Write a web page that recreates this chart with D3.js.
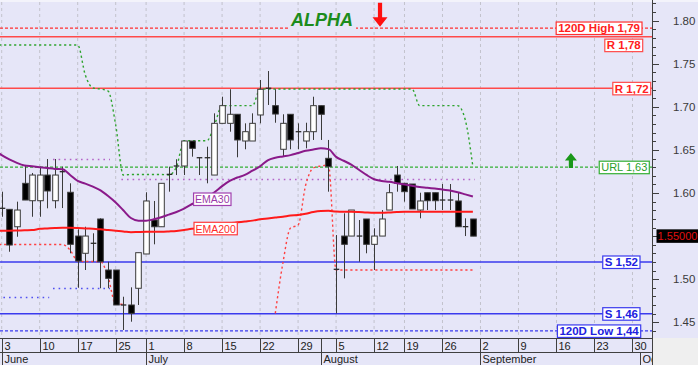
<!DOCTYPE html>
<html><head><meta charset="utf-8">
<script src="https://cdn.jsdelivr.net/npm/d3@7"></script>
<style>
html,body{margin:0;padding:0;background:#e6e6f8;}
svg{display:block;font-family:"Liberation Sans",Arial,sans-serif;}
</style></head><body>
<svg id="chart" width="698" height="365"></svg>
<script>
// ---------- DATA ----------
// trading-day index 0 = 3 June; candles 0..62
const openV  = [1.5825,1.5811,1.5609,1.6113,1.5911,1.5911,1.6209,1.5911,1.6250,1.6009,1.5501,1.5301,1.5419,1.5699,1.5107,1.5107,1.4703,1.4701,1.4895,1.5293,1.5687,1.5609,1.6219,1.6316,1.6314,1.6604,1.6412,1.6412,1.6209,1.6809,1.6809,1.6914,1.6604,1.6604,1.6906,1.7218,1.7014,1.6508,1.6914,1.6714,1.6604,1.6712,1.7014,1.6403,1.5117,1.5501,1.5501,1.5503,1.5699,1.5405,1.5501,1.5803,1.6209,1.6113,1.6105,1.5803,1.6004,1.6004,1.5921,1.5921,1.5908,1.5611,1.5699];
const highV  = [1.6016,1.5811,1.5900,1.6314,1.6233,1.6306,1.6395,1.6395,1.6306,1.6113,1.5579,1.5609,1.5533,1.5707,1.5203,1.5107,1.4797,1.4906,1.5308,1.6009,1.5908,1.6113,1.6306,1.6392,1.6604,1.6604,1.6412,1.6538,1.6925,1.7118,1.7204,1.6914,1.6809,1.6925,1.7312,1.7416,1.7204,1.6914,1.6914,1.6809,1.6816,1.7118,1.7014,1.6616,1.5513,1.5765,1.5803,1.5687,1.5699,1.5591,1.5803,1.6105,1.6314,1.6113,1.6105,1.6004,1.6004,1.6004,1.6105,1.6105,1.6004,1.5707,1.5699];
const lowV   = [1.5725,1.5319,1.5493,1.5919,1.5725,1.5725,1.5823,1.5823,1.5826,1.5301,1.4901,1.5107,1.5203,1.4895,1.4895,1.4701,1.4411,1.4507,1.4701,1.5293,1.5405,1.5609,1.6016,1.6209,1.6209,1.6422,1.6209,1.6113,1.6209,1.6809,1.6712,1.6415,1.6508,1.6604,1.6809,1.7022,1.6816,1.6422,1.6508,1.6508,1.6519,1.6616,1.6616,1.6016,1.4604,1.5010,1.5501,1.5203,1.5301,1.5107,1.5501,1.5803,1.6016,1.5900,1.5815,1.5707,1.5803,1.5803,1.5803,1.5803,1.5609,1.5501,1.5500];
const closeV = [1.5821,1.5397,1.5803,1.5919,1.6209,1.6209,1.6024,1.6209,1.6246,1.5405,1.5211,1.5501,1.5415,1.5203,1.5010,1.4701,1.4699,1.4604,1.5308,1.5908,1.5609,1.6113,1.6215,1.6312,1.6604,1.6519,1.6408,1.6408,1.6809,1.7014,1.6914,1.6616,1.6712,1.6809,1.7204,1.7214,1.6917,1.6809,1.6616,1.6710,1.6712,1.7014,1.6914,1.6306,1.5113,1.5405,1.5803,1.5499,1.5405,1.5501,1.5699,1.6004,1.6113,1.6016,1.5815,1.5908,1.5911,1.5911,1.5917,1.5917,1.5609,1.5609,1.5500];

// indicator series start at index -1
const seriesStart = -1;
const ema30 = [1.650,1.644,1.639,1.635,1.632,1.631,1.630,1.629,1.628,1.6275,1.621,1.614,1.611,1.6075,1.603,1.5965,1.589,1.580,1.571,1.568,1.568,1.5695,1.572,1.575,1.578,1.582,1.587,1.591,1.595,1.601,1.608,1.614,1.618,1.621,1.626,1.631,1.638,1.641,1.6425,1.644,1.6465,1.649,1.6505,1.652,1.651,1.642,1.6375,1.633,1.627,1.621,1.616,1.614,1.613,1.6115,1.610,1.6085,1.607,1.6062,1.6052,1.604,1.603,1.601,1.5985,1.596];
const ema200 = [1.5563,1.5563,1.5563,1.5565,1.5568,1.557,1.5585,1.559,1.5595,1.5598,1.5598,1.5595,1.559,1.5585,1.558,1.557,1.5562,1.5555,1.5545,1.5548,1.555,1.555,1.5551,1.5555,1.556,1.557,1.5585,1.559,1.5605,1.562,1.5635,1.565,1.566,1.567,1.568,1.5695,1.5705,1.5715,1.5725,1.574,1.5745,1.576,1.578,1.5792,1.5795,1.5785,1.5783,1.5783,1.578,1.5775,1.5772,1.5772,1.5775,1.578,1.5783,1.5783,1.5783,1.5783,1.5783,1.5783,1.5783,1.5783,1.5783,1.5783];
const upperStop = [1.7718,1.7718,1.7718,1.7718,1.7718,1.7718,1.7718,1.7718,1.7718,1.7718,1.7718,1.7718,1.737,1.7219,1.7207,1.7184,1.679,1.621,1.6215,1.6215,1.6215,1.6215,1.6215,1.621,1.6306,1.6607,1.6607,1.6607,1.6607,1.679,1.7014,1.7014,1.7014,1.7014,1.7014,1.7207,1.7207,1.7207,1.7207,1.7207,1.7207,1.7207,1.7207,1.7207,1.7207,1.7207,1.7207,1.7207,1.7207,1.7207,1.7207,1.7207,1.7207,1.7207,1.7207,1.7207,1.7014,1.7014,1.7014,1.7014,1.7014,1.7014,1.6848,1.6306];
const lowerStop = [1.5403,1.5403,1.5403,1.5403,1.5403,1.5403,1.5403,1.5403,1.5403,1.5403,1.5339,1.5212,1.5205,1.5205,1.5205,1.5026,1.4709,1.4709,null,null,null,null,null,null,null,null,null,null,null,null,null,null,null,null,null,null,null,1.4604,1.5188,1.5594,1.5629,1.6093,1.6291,1.6314,1.6325,1.5107,1.5107,1.5107,1.5107,1.5107,1.5107,1.5107,1.5107,1.5107,1.5107,1.5107,1.5107,1.5107,1.5107,1.5107,1.5107,1.5107,1.5107,1.5107];

const purpleDotStart = [7, 16], purpleDotEnd = [14, 62], purpleDotValue = [1.6395, 1.6159];
const blueDotStart = [-1, 7], blueDotEnd = [6, 14], blueDotValue = [1.4799, 1.4901];

const levelValues = [1.7915, 1.7815, 1.7215, 1.6300, 1.5200, 1.4600, 1.4400];
const levelLabels = ["120D High 1,79", "R 1,78", "R 1,72", "URL 1,63", "S 1,52", "S 1,46", "120D Low 1,44"];

const weekTickIdx = [0,5,10,15,19,24,29,34,39,44,49,53,58,63,68,73,78,83];
const weekTickLabels = ["3","10","17","25","1","8","15","22","29","5","12","19","26","2","9","16","23","30"];
const monthIdx = [0,19,42,63,84];
const monthLabels = ["June","July","August","September","October"];

const yTickValues = [1.45,1.50,1.55,1.60,1.65,1.70,1.75,1.80];
const yTickLabels = ["1.45","1.50","1.55","1.60","1.65","1.70","1.75","1.80"];

const titleText = "ALPHA";
const emaLabels = ["EMA30","EMA200"];

// ---------- STYLE / LAYOUT ----------
const W = 698, H = 365;
const P = {left:0, top:2, right:652, bottom:338};
const BG = "#e6e6f8";
const FONT = '"Liberation Sans", Arial, sans-serif';
const svg = d3.select("#chart");

const x = d3.scaleLinear().domain([-0.224, 85.57]).range([P.left, P.right]);
const y = d3.scaleLinear().domain([1.4318, 1.8217]).range([P.bottom, P.top]);

svg.append("rect").attr("width",W).attr("height",H).attr("fill",BG);
svg.append("rect").attr("width",W).attr("height",2).attr("fill","#f3f3fb");

const defs = svg.append("defs");
defs.append("clipPath").attr("id","plotclip").append("rect")
  .attr("x",P.left).attr("y",P.top).attr("width",P.right-P.left).attr("height",P.bottom-P.top);
defs.append("clipPath").attr("id","axisclip").append("rect")
  .attr("x",0).attr("y",P.bottom).attr("width",P.right).attr("height",H-P.bottom);

const plot = svg.append("g").attr("clip-path","url(#plotclip)");

// vertical grid
plot.selectAll("line.grid").data(weekTickIdx).join("line")
  .attr("x1",d=>x(d)).attr("x2",d=>x(d)).attr("y1",P.top).attr("y2",P.bottom)
  .attr("stroke","#c2c2cc").attr("stroke-width",1).attr("stroke-dasharray","3,3");

// dotted horizontal segments
function dotSegs(starts, ends, vals, color){
  plot.selectAll(null).data(starts.map((s,k)=>({s, e:ends[k], v:vals[k]}))).join("line")
    .attr("x1",d=>x(d.s-0.25)).attr("x2",d=>x(d.e+0.25))
    .attr("y1",d=>Math.round(y(d.v))+0.5).attr("y2",d=>Math.round(y(d.v))+0.5)
    .attr("stroke",color).attr("stroke-width",1.6).attr("stroke-dasharray","1.6,4");
}
dotSegs(purpleDotStart, purpleDotEnd, purpleDotValue, "#b464c8");
dotSegs(blueDotStart, blueDotEnd, blueDotValue, "#5050f0");

// level lines
const levelStyle = [
  {c:"#ff3030", dash:"3,2", w:1.2, tc:"#ff2020", bold:true, xr:642, dy:0},
  {c:"#ff4a4a", dash:null, w:1.5, tc:"#ff2020", bold:true, xr:642.7, dy:8.5},
  {c:"#ff4a4a", dash:null, w:1.5, tc:"#ff2020", bold:true, xr:650.7, dy:0},
  {c:"#33b033", dash:"3,2", w:1.2, tc:"#2aa02a", bold:false, xr:649.3, dy:0},
  {c:"#3a3aee", dash:null, w:1.5, tc:"#2020e0", bold:true, xr:640, dy:0},
  {c:"#3a3aee", dash:null, w:1.5, tc:"#2020e0", bold:true, xr:640, dy:0},
  {c:"#3a3aee", dash:"3,2", w:1.2, tc:"#2020e0", bold:true, xr:640.7, dy:0}
];
levelValues.forEach((v,k)=>{
  const st = levelStyle[k];
  plot.append("line").attr("x1",P.left).attr("x2",P.right)
    .attr("y1",y(v)).attr("y2",y(v))
    .attr("stroke",st.c).attr("stroke-width",st.w)
    .attr("stroke-dasharray",st.dash);
});

// trailing stops
const idx = (d,k)=>seriesStart+k;
const stopLine = d3.line().defined(d=>d!=null).x((d,k)=>x(idx(d,k))).y(d=>y(d)).curve(d3.curveMonotoneX);
plot.append("path").attr("d",stopLine(upperStop)).attr("fill","none")
  .attr("stroke","#2ea42e").attr("stroke-width",1.4).attr("stroke-dasharray","2.2,2.8");
plot.append("path").attr("d",stopLine(lowerStop)).attr("fill","none")
  .attr("stroke","#ff4040").attr("stroke-width",1.4).attr("stroke-dasharray","2.2,2.8");

// candles
const candles = openV.map((o,i)=>({i, o, h:highV[i], l:lowV[i], c:closeV[i]}));
const bw = 5.6;
const cg = plot.append("g");
cg.selectAll("line.wick").data(candles).join("line")
  .attr("x1",d=>Math.round(x(d.i))+0.5).attr("x2",d=>Math.round(x(d.i))+0.5)
  .attr("y1",d=>y(d.h)).attr("y2",d=>y(d.l))
  .attr("stroke","#3a3a3a").attr("stroke-width",1);
cg.selectAll("rect.body").data(candles.filter(d=>Math.abs(d.o-d.c)>0.0008)).join("rect")
  .attr("x",d=>Math.round(x(d.i))+0.5-bw/2).attr("width",bw)
  .attr("y",d=>y(Math.max(d.o,d.c))).attr("height",d=>Math.max(1,Math.abs(y(d.o)-y(d.c))))
  .attr("fill",d=>d.c>=d.o?"#ffffff":"#000000")
  .attr("stroke","#3a3a3a").attr("stroke-width",1);
cg.selectAll("line.doji").data(candles.filter(d=>Math.abs(d.o-d.c)<=0.0008)).join("line")
  .attr("x1",d=>Math.round(x(d.i))+0.5-bw/2).attr("x2",d=>Math.round(x(d.i))+0.5+bw/2)
  .attr("y1",d=>y((d.o+d.c)/2)).attr("y2",d=>y((d.o+d.c)/2))
  .attr("stroke","#2a2a2a").attr("stroke-width",1.3);

// EMA lines
const emaLine = d3.line().x((d,k)=>x(idx(d,k))).y(d=>y(d)).curve(d3.curveMonotoneX);
plot.append("path").attr("d",emaLine(ema200)).attr("fill","none").attr("stroke","#ff1a1a").attr("stroke-width",2);
plot.append("path").attr("d",emaLine(ema30)).attr("fill","none").attr("stroke","#8a1a8a").attr("stroke-width",2);

// label boxes
function tag(text, xr, cy, stroke, tcolor, bold, size, pad){
  const g = svg.append("g");
  const r = g.append("rect");
  const t = g.append("text").text(text).attr("font-size",size)
    .attr("font-weight",bold?"bold":"normal").attr("fill",tcolor).attr("font-family",FONT);
  const w = t.node().getComputedTextLength();
  r.attr("x",xr-w-2*pad).attr("y",cy-6).attr("width",w+2*pad).attr("height",12.5)
    .attr("fill","#ffffff").attr("stroke",stroke).attr("stroke-width",1.2);
  t.attr("x",xr-w-pad).attr("y",cy+4.3);
}
levelValues.forEach((v,k)=>{
  const st = levelStyle[k];
  tag(levelLabels[k], st.xr, y(v)+st.dy, st.c, st.tc, st.bold, st.bold?11.5:11, 2);
});
tag(emaLabels[0], 231, 199, "#a040b0", "#9a3aa8", false, 10.5, 1.5);
tag(emaLabels[1], 237.3, 228.3, "#ff3a3a", "#ff2a2a", false, 10.5, 1.5);

// title ALPHA and arrows
svg.append("rect").attr("x",289).attr("y",25).attr("width",67).attr("height",7).attr("fill",BG);
svg.append("text").attr("x",291).attr("y",26).text(titleText)
  .attr("font-size",18).attr("font-weight","bold").attr("font-style","italic")
  .attr("fill","#1c8c1c").attr("font-family",FONT);

function arrow(cx, tipY, dir, color, shaftW, headW, headH, len){
  const b = tipY - dir*headH, e = tipY - dir*len;
  const p = d3.path();
  p.moveTo(cx, tipY);
  p.lineTo(cx-headW/2, b); p.lineTo(cx-shaftW/2, b); p.lineTo(cx-shaftW/2, e);
  p.lineTo(cx+shaftW/2, e); p.lineTo(cx+shaftW/2, b); p.lineTo(cx+headW/2, b);
  p.closePath();
  svg.append("path").attr("d",p.toString()).attr("fill",color);
}
arrow(x(49.78), y(1.7930), 1, "#ff1010", 4.2, 15, 9.5, 24);
arrow(x(74.9), y(1.6466), -1, "#1a981a", 4.2, 12, 7.5, 15);

// y axis
const last = closeV[closeV.length-1];
svg.append("line").attr("x1",P.right+0.5).attr("x2",P.right+0.5).attr("y1",0).attr("y2",P.bottom)
  .attr("stroke","#404040").attr("stroke-width",1);
const minor = d3.range(144,183).map(v=>v/100);
svg.selectAll("line.minor").data(minor).join("line")
  .attr("x1",P.right).attr("x2",P.right+4).attr("y1",d=>Math.round(y(d))+0.5).attr("y2",d=>Math.round(y(d))+0.5)
  .attr("stroke","#404040");
svg.selectAll("line.major").data(yTickValues).join("line")
  .attr("x1",P.right).attr("x2",P.right+7).attr("y1",d=>Math.round(y(d))+0.5).attr("y2",d=>Math.round(y(d))+0.5)
  .attr("stroke","#404040");
// labels hidden behind the last-price box are not drawn
const visibleY = yTickValues.map((v,k)=>({v, t:yTickLabels[k]})).filter(d=>Math.abs(y(d.v)-y(last))>10);
svg.selectAll("text.ylab").data(visibleY).join("text")
  .attr("x",673).attr("y",d=>y(d.v)+4).text(d=>d.t)
  .attr("font-size",11.5).attr("fill","#3a3a3a").attr("font-family",FONT);

// last price box
svg.append("rect").attr("x",656.5).attr("y",y(last)-6.8).attr("width",42).attr("height",13.5).attr("fill","#000");
svg.append("text").attr("x",677.5).attr("y",y(last)+4).attr("text-anchor","middle")
  .text(d3.format(".5f")(last)).attr("font-size",11).attr("fill","#e01010").attr("font-family",FONT);

// x axis
svg.append("rect").attr("x",P.right+1).attr("y",P.bottom).attr("width",W-P.right-1).attr("height",H-P.bottom).attr("fill","#efefef");
const ax = svg.append("g").attr("clip-path","url(#axisclip)");
ax.append("line").attr("x1",0).attr("x2",P.right).attr("y1",P.bottom+0.5).attr("y2",P.bottom+0.5).attr("stroke","#404040");
ax.append("line").attr("x1",0).attr("x2",P.right).attr("y1",352.5).attr("y2",352.5).attr("stroke","#404040");
ax.selectAll("line.wk").data(weekTickIdx).join("line")
  .attr("x1",d=>Math.round(x(d))+0.5).attr("x2",d=>Math.round(x(d))+0.5).attr("y1",P.bottom).attr("y2",352.5)
  .attr("stroke","#404040");
ax.selectAll("text.wk").data(weekTickIdx).join("text")
  .attr("x",d=>Math.round(x(d))+2.5).attr("y",349.5).text((d,k)=>weekTickLabels[k])
  .attr("font-size",11).attr("fill","#222").attr("font-family",FONT);
ax.selectAll("line.mo").data(monthIdx).join("line")
  .attr("x1",d=>Math.round(x(d))+0.5).attr("x2",d=>Math.round(x(d))+0.5)
  .attr("y1",(d,k)=>k===monthIdx.length-1?352.5:P.bottom).attr("y2",H)
  .attr("stroke","#404040");
ax.selectAll("text.mo").data(monthIdx).join("text")
  .attr("x",d=>Math.round(x(d))+2.5).attr("y",362.5).text((d,k)=>monthLabels[k])
  .attr("font-size",11).attr("fill","#222").attr("font-family",FONT);
svg.append("line").attr("x1",P.right+0.5).attr("x2",P.right+0.5).attr("y1",P.bottom).attr("y2",H)
  .attr("stroke","#404040");
</script>
</body></html>
